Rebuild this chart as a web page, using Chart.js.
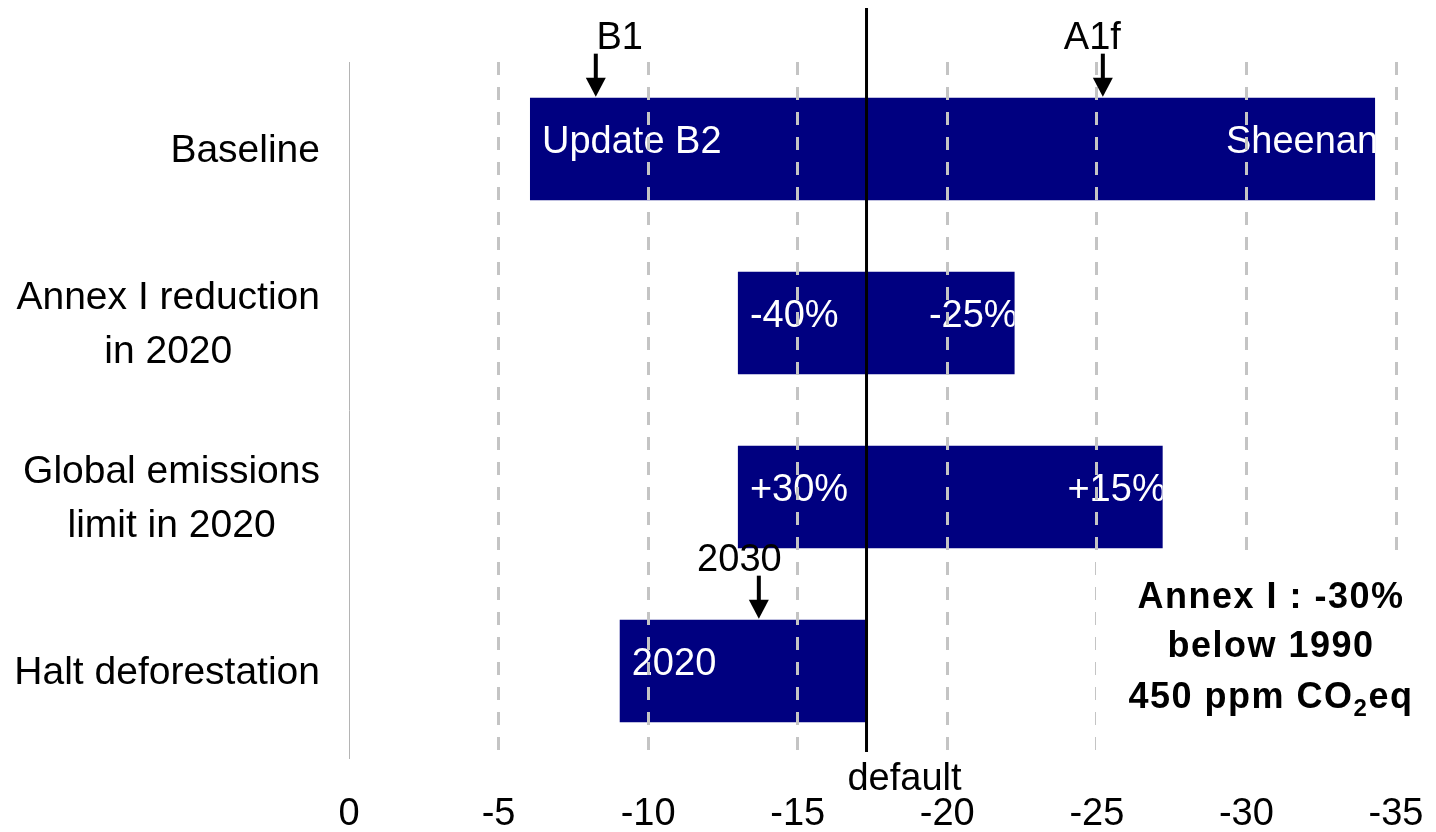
<!DOCTYPE html>
<html>
<head>
<meta charset="utf-8">
<script src="https://cdn.jsdelivr.net/npm/chart.js@4.4.0/dist/chart.umd.min.js"></script>
<style>
  html, body { margin: 0; padding: 0; background: #fff; }
  canvas { display: block; }
</style>
</head>
<body>
<canvas id="chart" width="1436" height="832"></canvas>
<script>
// categories (multi-line labels) and floating bar ranges
const categories = [
  ['Baseline'],
  ['Annex I reduction', 'in 2020'],
  ['Global emissions', 'limit in 2020'],
  ['Halt deforestation']
];
const rangeStart = [-6.05, -13.0, -13.0, -9.05];
const rangeEnd = [-34.3, -22.25, -27.2, -17.3];

// white text written inside the bars, at their start and end
const startLabels = ['Update B2', '-40%', '+30%', '2020'];
const endLabels = ['Sheenan', '-25%', '+15%', ''];

const xTicks = [0, -5, -10, -15, -20, -25, -30, -35];

// vertical reference line
const defaultValue = -17.3;
const defaultLabel = 'default';

// arrows pointing at a bar
const markerLabels = ['B1', 'A1f', '2030'];
const markerValues = [-8.25, -25.2, -13.7];
const markerLabelValues = [-9.05, -24.85, -13.05];
const markerRows = [0, 0, 3];

// note in the lower right corner ("_2" = subscript 2)
const noteLines = ['Annex I : -30%', 'below 1990', '450 ppm CO_2eq'];

const FONT = '"Liberation Sans", Arial, sans-serif';
const NAVY = '#000080';

const overlays = {
  id: 'overlays',
  afterDatasetsDraw(chart) {
    const ctx = chart.ctx;
    const meta = chart.getDatasetMeta(0);
    ctx.save();
    ctx.font = '38px ' + FONT;
    ctx.fillStyle = '#fff';
    ctx.textBaseline = 'alphabetic';
    meta.data.forEach((bar, i) => {
      const left = Math.min(bar.x, bar.base);
      const right = Math.max(bar.x, bar.base);
      const top = bar.y - bar.height / 2;
      ctx.save();
      ctx.beginPath();
      ctx.rect(left, top, right - left, bar.height);
      ctx.clip();
      const by = bar.y + 4;
      if (startLabels[i]) {
        ctx.textAlign = 'left';
        ctx.fillText(startLabels[i], left + 12, by);
      }
      if (endLabels[i]) {
        ctx.textAlign = 'right';
        ctx.fillText(endLabels[i], right + 3, by);
      }
      ctx.restore();
    });
    ctx.restore();
  },
  afterDraw(chart) {
    const ctx = chart.ctx;
    const x = chart.scales.x;
    const y = chart.scales.y;
    const area = chart.chartArea;
    const meta = chart.getDatasetMeta(0);
    ctx.save();

    // category labels: block right-aligned, lines centred in block
    ctx.font = '39px ' + FONT;
    ctx.fillStyle = '#000';
    ctx.textAlign = 'center';
    ctx.textBaseline = 'alphabetic';
    categories.forEach((lines, i) => {
      const cy = y.getPixelForValue(i);
      const w = Math.max(...lines.map(l => ctx.measureText(l).width));
      const cx = area.left - 29 - w / 2;
      lines.forEach((l, j) => {
        ctx.fillText(l, cx, cy + (j - (lines.length - 1) / 2) * 54 + 13);
      });
    });

    // default line
    ctx.font = '38px ' + FONT;
    const dx = x.getPixelForValue(defaultValue);
    ctx.strokeStyle = '#000';
    ctx.lineWidth = 3;
    ctx.beginPath();
    ctx.moveTo(dx, 8);
    ctx.lineTo(dx, area.bottom - 6);
    ctx.stroke();
    ctx.fillText(defaultLabel, dx + 38, area.bottom + 32);

    // arrows
    markerValues.forEach((v, i) => {
      const ax = x.getPixelForValue(v);
      const bar = meta.data[markerRows[i]];
      const tip = bar.y - bar.height / 2 - 1;
      const topY = tip - 43;
      ctx.fillStyle = '#000';
      ctx.lineWidth = 4;
      ctx.beginPath();
      ctx.moveTo(ax, topY);
      ctx.lineTo(ax, tip - 16);
      ctx.stroke();
      ctx.beginPath();
      ctx.moveTo(ax - 10, tip - 19);
      ctx.lineTo(ax + 10, tip - 19);
      ctx.lineTo(ax, tip);
      ctx.closePath();
      ctx.fill();
      ctx.textAlign = 'center';
      ctx.fillText(markerLabels[i], x.getPixelForValue(markerLabelValues[i]), topY - 5);
    });

    // note box
    ctx.fillStyle = '#fff';
    ctx.fillRect(area.right - 300, area.bottom - 196, 330, 196);
    ctx.fillStyle = '#000';
    const ncx = area.right - 125;
    const baselines = [area.bottom - 150, area.bottom - 101, area.bottom - 50];
    ctx.textAlign = 'left';
    ctx.letterSpacing = '1.5px';
    noteLines.forEach((line, i) => {
      const parts = line.split('_');
      const segs = [];
      parts.forEach((p, k) => {
        if (k === 0) { segs.push({ t: p, sub: false }); return; }
        segs.push({ t: p.charAt(0), sub: true });
        segs.push({ t: p.slice(1), sub: false });
      });
      let total = 0;
      segs.forEach(s => {
        ctx.font = (s.sub ? 'bold 24px ' : 'bold 36px ') + FONT;
        s.w = ctx.measureText(s.t).width;
        total += s.w;
      });
      let px = ncx - total / 2;
      segs.forEach(s => {
        ctx.font = (s.sub ? 'bold 24px ' : 'bold 36px ') + FONT;
        ctx.fillText(s.t, px, baselines[i] + (s.sub ? 8 : 0));
        px += s.w;
      });
    });
    ctx.restore();
  }
};

new Chart(document.getElementById('chart'), {
  type: 'bar',
  data: {
    labels: categories,
    datasets: [{
      data: rangeStart.map((s, i) => [s, rangeEnd[i]]),
      backgroundColor: NAVY,
      borderWidth: 0,
      barPercentage: 0.59,
      categoryPercentage: 1
    }]
  },
  options: {
    responsive: false,
    animation: false,
    devicePixelRatio: 1,
    indexAxis: 'y',
    layout: { padding: { top: 62, right: 40, bottom: 0, left: 0 } },
    plugins: { legend: { display: false }, tooltip: { enabled: false } },
    scales: {
      x: {
        type: 'linear',
        min: -35,
        max: 0,
        reverse: true,
        afterFit: s => { s.height = 74; s.paddingLeft = 0; s.paddingRight = 0; },
        afterBuildTicks: s => { s.ticks = xTicks.map(v => ({ value: v })); },
        grid: {
          z: 1,
          drawTicks: false,
          lineWidth: 3,
          color: c => (c.tick && c.tick.value === 0) ? 'rgba(0,0,0,0)' : '#c4c4c4'
        },
        border: { display: false, dash: [13, 12] },
        ticks: { padding: 34, color: '#000', font: { family: FONT, size: 38 } }
      },
      y: {
        afterFit: s => { s.width = 349; },
        grid: { display: false },
        border: { display: true, color: '#b4b4b4', width: 1 },
        ticks: { display: false }
      }
    }
  },
  plugins: [overlays]
});
</script>
</body>
</html>
